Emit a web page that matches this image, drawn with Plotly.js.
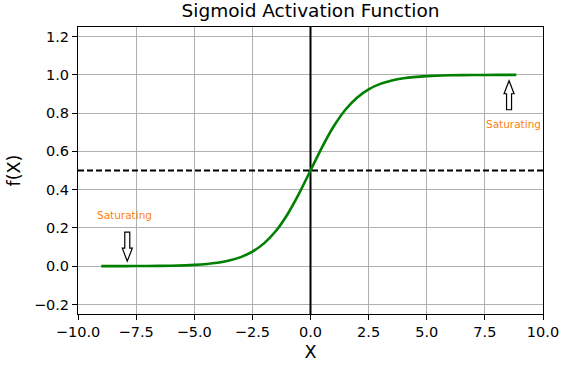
<!DOCTYPE html>
<html>
<head>
<meta charset="utf-8">
<script src="https://cdn.plot.ly/plotly-3.0.1.min.js"></script>
<style>html,body{margin:0;padding:0;background:#fff;}#chart{width:571px;height:365px;}</style>
</head>
<body>
<div id="chart"></div>
<script>
// Curve samples (sigmoid shape)
var xValues = [-9, -8, -7, -6, -5, -4, -3.5, -3, -2.5, -2, -1.5, -1, -0.5, 0, 0.5, 1, 1.5, 2, 2.5, 3, 3.5, 4, 5, 6, 7, 8, 8.85];
var yValues = [0.0001, 0.0003, 0.0009, 0.0025, 0.0067, 0.0180, 0.0293, 0.0474, 0.0759, 0.1192, 0.1824, 0.2689, 0.3775, 0.5, 0.6225, 0.7311, 0.8176, 0.8808, 0.9241, 0.9526, 0.9707, 0.9820, 0.9933, 0.9975, 0.9991, 0.9997, 0.9998];

var xRange = [-10, 10];
var yRange = [-0.25, 1.25];
var xTickVals = [-10, -7.5, -5, -2.5, 0, 2.5, 5, 7.5, 10];
var yTickVals = [-0.2, 0, 0.2, 0.4, 0.6, 0.8, 1.0, 1.2];

var hLineY = 0.5;
var vLineX = 0;

var noteTexts = ['Saturating', 'Saturating'];
var noteX = [-8.0, 8.73];
var noteY = [0.266, 0.745];

var arrowTipX = [-7.88, 8.54];
var arrowTipY = [0.026, 0.969];
var arrowDir = [-1, 1]; // -1 pointing down, 1 pointing up

var font = 'DejaVu Sans, sans-serif';

function arrowPath(dir) {
  var L = 29, hl = 13, hw = 5, sw = 2.5;
  var s = -dir;
  var pts = [[0,0],[-hw,s*hl],[-sw,s*hl],[-sw,s*L],[sw,s*L],[sw,s*hl],[hw,s*hl]];
  return 'M' + pts.map(function(p){return p[0] + ',' + p[1];}).join(' L') + ' Z';
}

var shapes = [
  {type:'line', xref:'paper', x0:0, x1:1, yref:'y', y0:hLineY, y1:hLineY, layer:'above',
   line:{color:'black', width:2, dash:'6px,3px'}}
];
for (var i = 0; i < arrowTipX.length; i++) {
  shapes.push({type:'path', xref:'x', yref:'y', xsizemode:'pixel', ysizemode:'pixel',
    xanchor: arrowTipX[i], yanchor: arrowTipY[i], path: arrowPath(arrowDir[i]),
    fillcolor:'white', line:{color:'black', width:1.2}, layer:'above'});
}

var annotations = noteTexts.map(function(t, i){
  return {x: noteX[i], y: noteY[i], xref:'x', yref:'y', text: t, showarrow:false,
    font:{family:font, size:10.5, color:'#ff7f0e'}};
});

var vline = {x: [vLineX, vLineX], y: yRange, type:'scatter', mode:'lines',
  line:{color:'black', width:2}, hoverinfo:'skip'};
var trace = {x: xValues, y: yValues, type:'scatter', mode:'lines',
  line:{color:'#008000', width:2.6, shape:'spline', smoothing:0.6}, hoverinfo:'skip'};

var layout = {
  width:571, height:365,
  margin:{l:78, r:28, t:27, b:51},
  paper_bgcolor:'white', plot_bgcolor:'white',
  showlegend:false,
  title:{text:'Sigmoid Activation Function', font:{family:font, size:18.5, color:'black'},
    x:0.5, xanchor:'center', xref:'paper', y:0.972, yanchor:'middle'},
  xaxis:{range:xRange, tickvals:xTickVals, tickformat:'.1f',
    showgrid:true, gridcolor:'#b0b0b0', gridwidth:1, zeroline:false,
    showline:true, linecolor:'black', linewidth:1, mirror:true,
    ticks:'outside', ticklen:5, tickwidth:1, tickcolor:'black',
    tickfont:{family:font, size:14.5, color:'black'},
    title:{text:'X', font:{family:font, size:17.5, color:'black'}, standoff:6}},
  yaxis:{range:yRange, tickvals:yTickVals, tickformat:'.1f',
    showgrid:true, gridcolor:'#b0b0b0', gridwidth:1, zeroline:false,
    showline:true, linecolor:'black', linewidth:1, mirror:true,
    ticks:'outside', ticklen:5, tickwidth:1, tickcolor:'black',
    tickfont:{family:font, size:14.5, color:'black'},
    title:{text:'f(X)', font:{family:font, size:17.5, color:'black'}, standoff:8}},
  shapes: shapes,
  annotations: annotations
};

Plotly.newPlot('chart', [vline, trace], layout, {displayModeBar:false, staticPlot:true});
</script>
</body>
</html>
